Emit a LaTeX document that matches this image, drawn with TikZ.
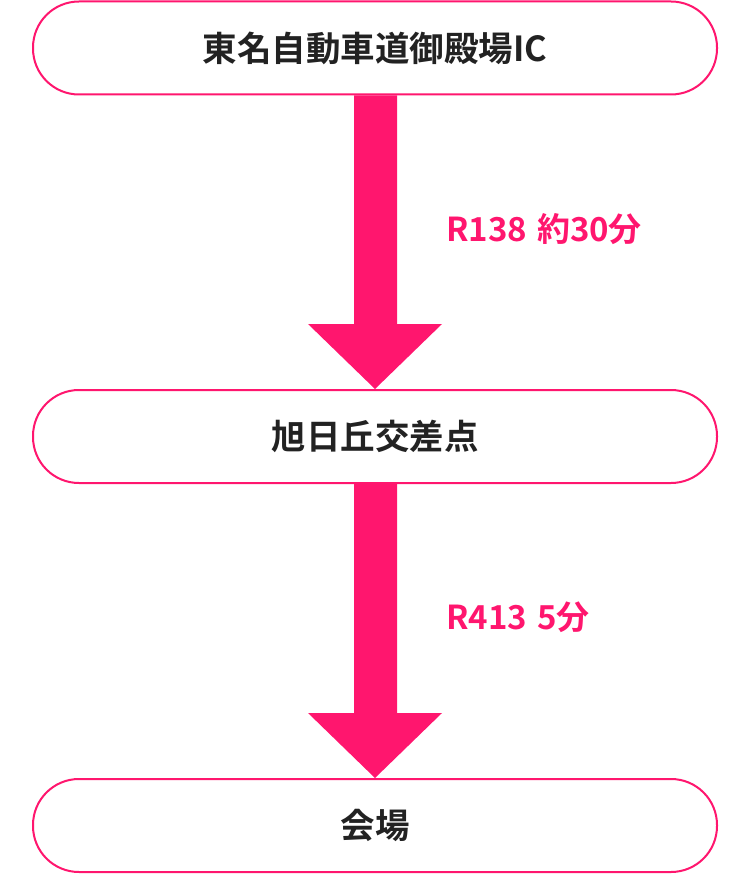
\documentclass[tikz,border=0pt]{standalone}
\usepackage{fontspec}
\newfontfamily\jpfont{Noto Sans CJK JP}[BoldFont={* Bold}]
\definecolor{brand}{RGB}{255,22,110}
\definecolor{ink}{RGB}{34,34,34}
\begin{document}
\begin{tikzpicture}[x=1pt,y=-1pt,
  place/.style={draw=brand,line width=2pt,fill=white,rounded corners=46pt,minimum width=684pt,minimum height=93pt,inner sep=0pt,font=\jpfont\bfseries\fontsize{34.5}{40}\selectfont,text=ink},
  routelabel/.style={anchor=west,inner sep=0pt,font=\jpfont\bfseries\fontsize{33}{38}\selectfont,text=brand}]
\useasboundingbox (0,0) rectangle (750,874);
\node[place] (ic) at (375,48) {東名自動車道御殿場IC};
\node[place] (cross) at (375,436.5) {旭日丘交差点};
\node[place] (venue) at (375,825.5) {会場};
% arrows
\fill[brand] (ic.south -| 354,0) -- (354,324) -- (308,324) -- (cross.north) -- (442,324) -- (397,324) -- (ic.south -| 397,0) -- cycle;
\fill[brand] (cross.south -| 354,0) -- (354,713) -- (308,713) -- (venue.north) -- (442,713) -- (397,713) -- (cross.south -| 397,0) -- cycle;
\node[routelabel] (l1) at (446,229) {R138\hspace{0.3em}約30分};
\node[routelabel] (l2) at (446,617) {R413\hspace{0.3em}5分};
\end{tikzpicture}
\end{document}
